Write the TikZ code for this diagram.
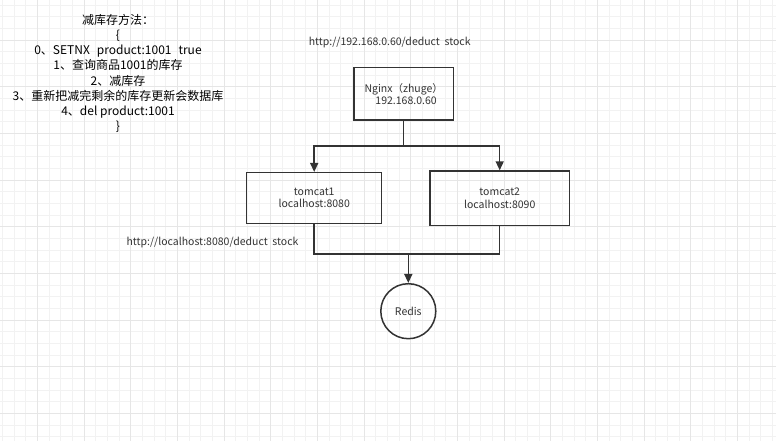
\documentclass[tikz,border=0pt]{standalone}
\usepackage{fontspec}
\setmainfont{Noto Sans CJK SC}
\usetikzlibrary{arrows.meta}
\definecolor{gminor}{HTML}{F2F2F2}
\definecolor{gmajor}{HTML}{E6E6E6}
\definecolor{ink}{HTML}{333333}
\tikzset{
  boxnode/.style={draw=ink,line width=1.5pt,rectangle,inner sep=0pt,align=center,text=ink,font=\fontsize{10.5}{12.5}\selectfont},
  conn/.style={draw=ink,line width=1.5pt},
  arr/.style={conn,-{Triangle[length=9pt,width=8pt]}},
  lbl/.style={text=ink,font=\fontsize{10.5}{12.5}\selectfont,inner sep=0pt},
}
\begin{document}
\begin{tikzpicture}[x=1pt,y=-1pt]
\useasboundingbox (0,0) rectangle (776,441);
\fill[white] (0,0) rectangle (776,441);
% grid
\foreach \i in {0,...,66} \draw[gminor,line width=0.8pt] ({2.33+11.667*\i},0) -- ++(0,441);
\foreach \j in {0,...,37} \draw[gminor,line width=0.8pt] (0,{5+11.667*\j}) -- ++(776,0);
\foreach \i in {0,...,16} \draw[gmajor,line width=0.9pt] ({37.33+46.667*\i},0) -- ++(0,441);
\foreach \j in {-1,...,8} \draw[gmajor,line width=0.9pt] (0,{40+46.667*\j}) -- ++(776,0);

\node[font=\fontsize{12}{15.2}\selectfont,align=center,inner sep=0pt] (method) at (118,73.5)
{减库存方法：\\ \{\\ 0、SETNX\hspace{7pt}product:1001\hspace{7pt}true\\ 1、查询商品1001的库存\\ 2、减库存\\ 3、重新把减完剩余的库存更新会数据库\\ 4、del product:1001\\ \}};

\node[lbl] (url1) at (389.7,42.7) {http://192.168.0.60/deduct\ \ stock};
\node[lbl] (url2) at (212.5,242.3) {http://localhost:8080/deduct\ \ stock};

\node[boxnode,minimum width=99.3pt,minimum height=52.3pt] (nginx) at (403.7,93.85) {Nginx（zhuge）\\ \ \ 192.168.0.60};
\node[boxnode,minimum width=135pt,minimum height=50.6pt] (t1) at (314.2,198) {tomcat1\\ localhost:8080};
\node[boxnode,minimum width=139.3pt,minimum height=54.3pt] (t2) at (499.7,198.2) {tomcat2\\ localhost:8090};
\node[draw=ink,line width=1.5pt,circle,minimum size=55pt,inner sep=0pt,text=ink,font=\fontsize{10.5}{12.5}\selectfont] (redis) at (408.3,311.2) {Redis};

\coordinate (split) at (403.7,146);
\coordinate (join) at (408.3,254);
\draw[conn] (nginx.south) -- (split);
\draw[arr] (split) -| (t1.north);
\draw[arr] (split) -| (t2.north);
\draw[conn] (t1.south) |- (join);
\draw[conn] (t2.south) |- (join);
\draw[arr] (join) -- (redis.north);
\end{tikzpicture}
\end{document}
